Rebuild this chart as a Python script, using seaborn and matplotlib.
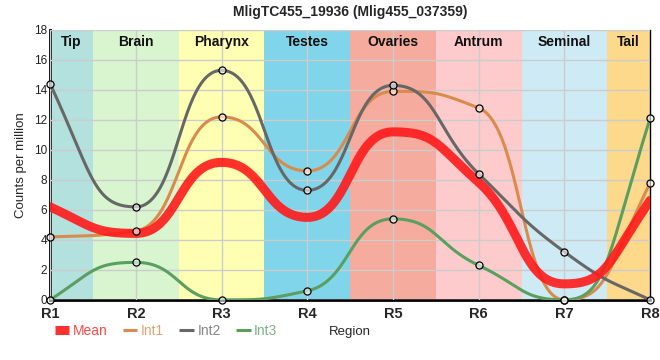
import numpy as np
import pandas as pd
import matplotlib
matplotlib.use('Agg')
import matplotlib.pyplot as plt
import seaborn as sns

# data
regions = ['R1', 'R2', 'R3', 'R4', 'R5', 'R6', 'R7', 'R8']
int1 = [4.2, 4.6, 12.2, 8.6, 13.9, 12.8, 0.0, 7.8]
int2 = [14.4, 6.2, 15.3, 7.3, 14.3, 8.4, 3.2, 0.0]
int3 = [0.0, 2.5, 0.0, 0.6, 5.4, 2.3, 0.0, 12.1]
mean = list(np.mean([int1, int2, int3], axis=0))

tissues = ['Tip', 'Brain', 'Pharynx', 'Testes', 'Ovaries', 'Antrum', 'Seminal', 'Tail']
tissue_colors = ['#b3e1dd', '#d8f5cf', '#ffffb4', '#80d5eb', '#f5ab9d',
                 '#fecbcc', '#ceebf5', '#fdd98b']

title = 'MligTC455_19936 (Mlig455_037359)'


def smooth(y, n=80):
    # monotone tangents, drawn as bezier segments with handles at half the step
    y = np.asarray(y, float)
    s = np.diff(y)
    t = np.zeros(len(y))
    for k in range(1, len(y) - 1):
        s0, s1 = s[k - 1], s[k]
        t[k] = (np.sign(s0) + np.sign(s1)) * min(abs(s0), abs(s1), 0.25 * abs(s0 + s1))
    t[0] = (3 * s[0] - t[1]) / 2
    t[-1] = (3 * s[-1] - t[-2]) / 2
    a = 0.5
    u = np.linspace(0, 1, n)
    b0, b1, b2, b3 = (1 - u)**3, 3 * u * (1 - u)**2, 3 * u**2 * (1 - u), u**3
    xs, ys = [], []
    for k in range(len(y) - 1):
        xs.append(k + b1 * a + b2 * (1 - a) + b3)
        ys.append(b0 * y[k] + b1 * (y[k] + a * t[k]) + b2 * (y[k + 1] - a * t[k + 1]) + b3 * y[k + 1])
    return np.concatenate(xs), np.concatenate(ys)


sns.set_style('whitegrid')
plt.rcParams['font.family'] = ['Liberation Sans', 'DejaVu Sans']

fig, ax = plt.subplots(figsize=(6.6, 3.6), dpi=100)
fig.subplots_adjust(left=0.076, right=0.985, bottom=0.167, top=0.917)

# tissue bands
edges = [0, 0.5, 1.5, 2.5, 3.5, 4.5, 5.5, 6.5, 7]
for i, name in enumerate(tissues):
    ax.axvspan(edges[i], edges[i + 1], color=tissue_colors[i], zorder=0, lw=0)
    ax.text((edges[i] + edges[i + 1]) / 2, 17.2, name, ha='center', va='center',
            fontsize=10, fontweight='bold', color='#111111', zorder=5)

series = {'Int1': (int1, '#da8b4c'), 'Int2': (int2, '#676767'), 'Int3': (int3, '#5a9f60')}
for name, (vals, col) in series.items():
    cx, cy = smooth(vals)
    sns.lineplot(x=cx, y=cy, ax=ax, color=col, lw=2.2, label=name, zorder=3, sort=False)

mx, my = smooth(mean)
sns.lineplot(x=mx, y=my, ax=ax, color='#ff1a1a', lw=6.5, alpha=0.9, label='Mean', zorder=4, sort=False)

pts = pd.DataFrame({'x': np.tile(np.arange(8), 3), 'y': int1 + int2 + int3})
sns.scatterplot(data=pts, x='x', y='y', ax=ax, s=26, color=(1, 1, 1, 0.6), edgecolor='black',
                linewidth=0.9, zorder=6, legend=False, clip_on=False)

ax.set_xlim(0, 7)
ax.set_ylim(0, 18)
ax.set_xticks(range(8))
ax.set_xticklabels(regions, fontsize=10.5, fontweight='bold')
ax.set_yticks(range(0, 19, 2))
ax.tick_params(axis='y', labelsize=8.5, pad=2, length=0, labelcolor='#222222')
ax.tick_params(axis='x', pad=5, length=0)
ax.grid(color='#cccccc', lw=1)
ax.set_axisbelow(False)
for sp in ['left', 'bottom', 'right']:
    ax.spines[sp].set_color('black')
    ax.spines[sp].set_linewidth(2)
ax.spines['right'].set_linewidth(1)
ax.spines['top'].set_visible(False)
ax.set_ylabel('Counts per million', fontsize=9.5, labelpad=5)
ax.set_xlabel('Region', fontsize=9.5, labelpad=4)
ax.set_title(title, fontsize=10, fontweight='bold', pad=10)

h, l = ax.get_legend_handles_labels()
order = [l.index(n) for n in ['Mean', 'Int1', 'Int2', 'Int3']]
leg = ax.legend([h[i] for i in order], [l[i] for i in order], loc='center left',
                bbox_to_anchor=(0.083, 0.08), bbox_transform=fig.transFigure, ncol=4,
                frameon=False, fontsize=10, labelcolor='linecolor', handlelength=1.05,
                handletextpad=0.25, columnspacing=1.1, borderpad=0, borderaxespad=0)
for txt in leg.get_texts():
    txt.set_alpha(0.8)
for ln in leg.get_lines():
    ln.set_solid_capstyle('butt')

fig.savefig('out.png', dpi=100)
